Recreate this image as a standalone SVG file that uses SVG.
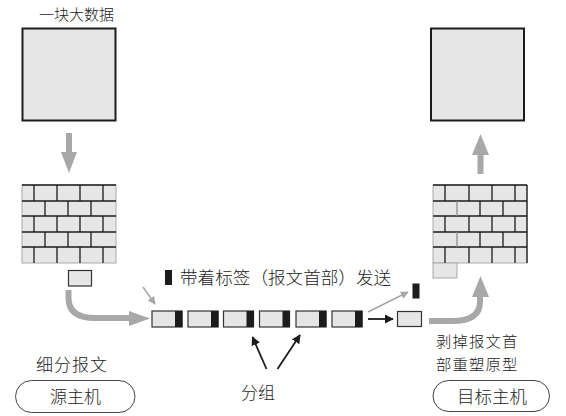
<svg xmlns="http://www.w3.org/2000/svg" width="566" height="416" viewBox="0 0 566 416">
  <style>
    .txt { font-family: "Noto Sans CJK SC", "Noto Sans", sans-serif; fill: #222; font-weight: 300; }
    .block { fill: #e6e6e6; stroke: #1c1c1c; stroke-width: 2; }
    .wall { fill: #e6e6e6; stroke: #aaa; stroke-width: 1; }
    .joint { stroke: #1c1c1c; stroke-width: 1.3; fill: none; }
    .soft { stroke: #8a8a8a; stroke-width: 1.2; fill: none; }
    .pkt { fill: #e6e6e6; stroke: #333; stroke-width: 1.2; }
    .tag { fill: #1c1c1c; }
    .big { fill: #a8a8a8; }
    .bigline { stroke: #a8a8a8; stroke-width: 6; fill: none; }
    .thin-gray { stroke: #a8a8a8; stroke-width: 1.6; fill: none; }
    .thin-black { stroke: #1c1c1c; stroke-width: 1.8; fill: none; }
    .pill { fill: none; stroke: #444; stroke-width: 1; }
  </style>
  <defs>
    <marker id="headGray" viewBox="0 0 10 10" refX="9" refY="5" markerWidth="5" markerHeight="5" orient="auto" markerUnits="strokeWidth">
      <path d="M0,0 L10,5 L0,10 z" fill="#a8a8a8"/>
    </marker>
    <marker id="headBlack" viewBox="0 0 10 10" refX="9" refY="5" markerWidth="5" markerHeight="5" orient="auto" markerUnits="strokeWidth">
      <path d="M0,0 L10,5 L0,10 z" fill="#1c1c1c"/>
    </marker>
    <!-- one packet: body plus dark header tag at its right end -->
    <g id="packet">
      <rect class="pkt" x="0" y="0" width="30" height="16"/>
      <rect class="tag" x="23" y="0" width="7.5" height="16"/>
    </g>
  </defs>

  <!-- source side -->
  <g id="source-data">
    <text class="txt" x="39" y="20" font-size="15">一块大数据</text>
    <rect class="block" x="22.5" y="28.5" width="93" height="92"/>
  </g>

  <g id="source-wall">
    <rect class="wall" x="22" y="185" width="94" height="78"/>
    <path class="joint" d="M22,185 H116 M22,201 H116 M22,216 H116 M22,232 H116 M22,247 H116"/>
    <path class="joint" d="M34,185 V201 M57,185 V201 M80,185 V201 M103,185 V201
                           M45,201 V216 M68,201 V216 M91,201 V216
                           M34,216 V232 M57,216 V232 M80,216 V232 M103,216 V232
                           M45,232 V247 M68,232 V247 M91,232 V247
                           M34,247 V263 M57,247 V263 M80,247 V263 M103,247 V263"/>
  </g>

  <g id="source-piece">
    <rect class="pkt" x="68.5" y="270.5" width="23" height="15.5" stroke-width="1.6"/>
  </g>

  <g id="source-label">
    <text class="txt" x="36" y="371" font-size="17" letter-spacing="1">细分报文</text>
  </g>

  <g id="source-host">
    <rect class="pill" x="15.5" y="380.5" width="119.5" height="32" rx="16"/>
    <text class="txt" x="75.5" y="403" font-size="17" text-anchor="middle">源主机</text>
  </g>

  <!-- packets in transit -->
  <g id="packets">
    <use href="#packet" x="152" y="311"/>
    <use href="#packet" x="188" y="311"/>
    <use href="#packet" x="223.5" y="311"/>
    <use href="#packet" x="259.5" y="311"/>
    <use href="#packet" x="296" y="311"/>
    <use href="#packet" x="332" y="311"/>
    <rect class="pkt" x="397.5" y="311.5" width="24" height="15"/>
  </g>

  <g id="legend">
    <rect class="tag" x="165" y="270" width="7" height="15"/>
    <text class="txt" x="180" y="284" font-size="17.6">带着标签（报文首部）发送</text>
  </g>

  <g id="stripped-tag">
    <rect class="tag" x="412.5" y="283.5" width="7" height="15"/>
  </g>

  <g id="packet-label">
    <text class="txt" x="241" y="399" font-size="17">分组</text>
  </g>

  <!-- destination side -->
  <g id="dest-data">
    <rect class="block" x="431" y="28.5" width="93" height="92"/>
  </g>

  <g id="dest-wall">
    <rect class="wall" x="433" y="185" width="94" height="78"/>
    <rect class="wall" x="433" y="263" width="24" height="15"/>
    <path class="joint" d="M433,185 H527 M433,201 H527 M433,216 H527 M433,232 H527 M433,247 H527 M527,185 V263"/>
    <path class="joint" d="M445,185 V201 M469,185 V201 M492,185 V201 M515,185 V201
                           M480,201 V216 M503,201 V216
                           M445,216 V232 M469,216 V232 M492,216 V232 M515,216 V232
                           M480,232 V247 M503,232 V247
                           M445,247 V263 M469,247 V263 M492,247 V263 M515,247 V263"/>
    <path class="soft" d="M457,201 V216 M457,232 V247"/>
  </g>

  <g id="dest-label">
    <text class="txt" x="436" y="347" font-size="15.3" letter-spacing="1.2">剥掉报文首</text>
    <text class="txt" x="436" y="370" font-size="15.3" letter-spacing="1.2">部重塑原型</text>
  </g>

  <g id="dest-host">
    <rect class="pill" x="433" y="380.5" width="116.5" height="31" rx="15.5"/>
    <text class="txt" x="492" y="403" font-size="17.5" text-anchor="middle">目标主机</text>
  </g>

  <!-- connectors -->
  <g id="connectors">
    <!-- data split into pieces -->
    <rect class="big" x="66" y="133" width="6" height="20"/>
    <polygon class="big" points="61,152 77,152 69,173"/>

    <!-- pieces sent off as packets -->
    <path class="bigline" d="M68.5,290 V298 Q68.5,318 95,318 H130"/>
    <polygon class="big" points="129,311 150,318.5 129,326"/>

    <line class="thin-gray" x1="143" y1="287" x2="155" y2="304" marker-end="url(#headGray)"/>

    <!-- header stripped at arrival -->
    <line class="thin-gray" x1="368" y1="312" x2="408" y2="292" marker-end="url(#headGray)"/>
    <line class="thin-black" x1="368" y1="319" x2="393" y2="319" marker-end="url(#headBlack)"/>

    <!-- packet callouts -->
    <line class="thin-black" x1="266.5" y1="369" x2="252.5" y2="337" marker-end="url(#headBlack)"/>
    <line class="thin-black" x1="277.5" y1="369" x2="300" y2="335" marker-end="url(#headBlack)"/>

    <!-- reassembly -->
    <path class="bigline" d="M429,321 H452 Q480,321 480,302 V296"/>
    <polygon class="big" points="472,297 480.5,276 489,297"/>

    <!-- rebuilt data -->
    <rect class="big" x="477.5" y="154" width="6" height="20"/>
    <polygon class="big" points="472,155 480.5,134 489,155"/>
  </g>
</svg>
